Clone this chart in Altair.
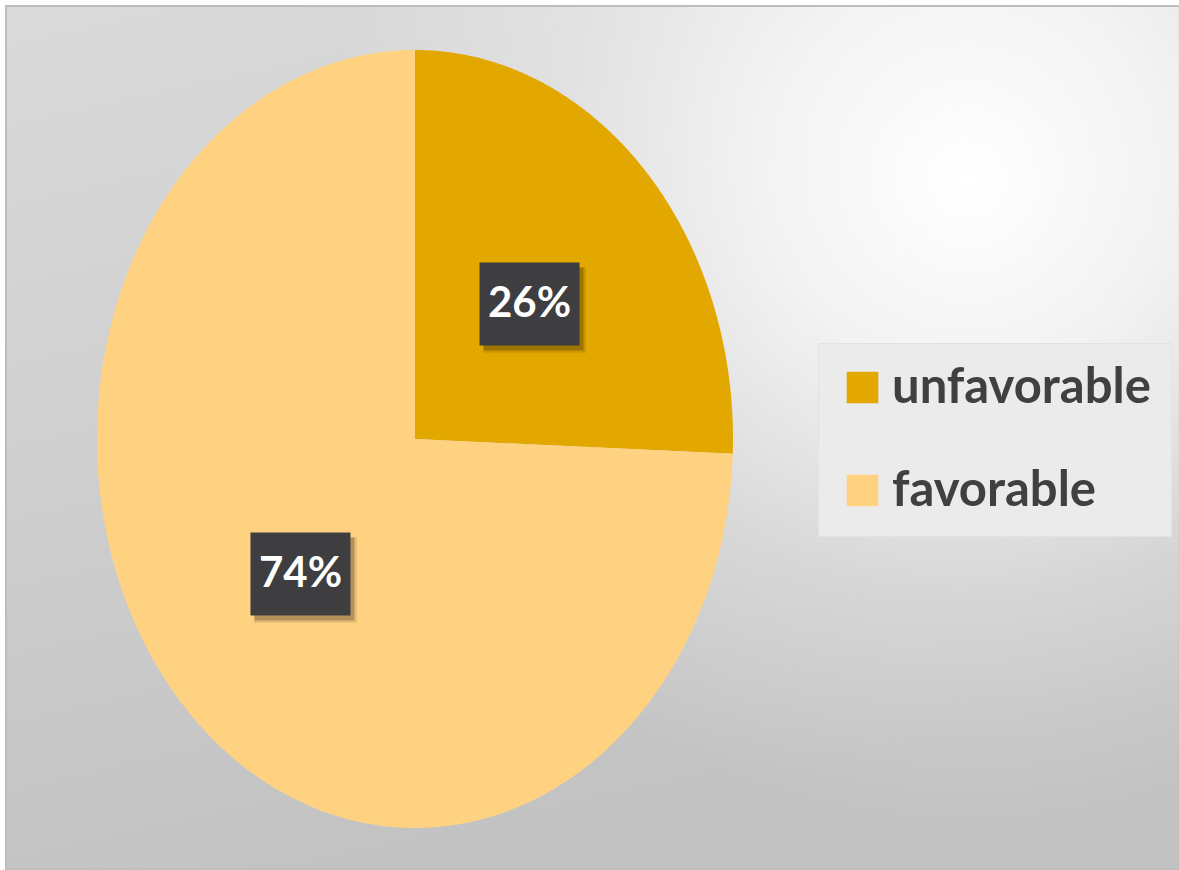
import altair as alt
import pandas as pd

# ---- data ----
categories = ["unfavorable", "favorable"]
values = [25.6, 74.4]
colors = ["#E2A800", "#FFD281"]

df = pd.DataFrame({"category": categories, "value": values})

# ---- layout ----
W, H = 1179, 870
CX, CY, RX, RY = 415, 439, 318, 389
xdom = [-CX / RX, (W - CX) / RX]
ydom = [(CY - H) / RY, CY / RY]

xs = alt.X("x:Q", scale=alt.Scale(domain=xdom, nice=False, zero=False), axis=None)
ys = alt.Y("y:Q", scale=alt.Scale(domain=ydom, nice=False, zero=False), axis=None)

base = (
    alt.Chart(df)
    .transform_window(cum="sum(value)", frame=[None, 0])
    .transform_joinaggregate(total="sum(value)")
    .transform_calculate(start="datum.cum - datum.value")
)

N = 240
pie = (
    base.transform_calculate(pts=f"sequence(-1, {N + 1})")
    .transform_flatten(["pts"])
    .transform_calculate(frac=f"clamp(datum.pts, 0, {N}) / {N}")
    .transform_calculate(ang="2*PI*(datum.start + datum.value*datum.frac)/datum.total")
    .transform_calculate(r="datum.pts < 0 ? 0 : 1")
    .transform_calculate(x="datum.r*sin(datum.ang)")
    .transform_calculate(y="datum.r*cos(datum.ang)")
    .mark_line(filled=True, strokeWidth=0)
    .encode(
        x=xs,
        y=ys,
        order=alt.Order("pts:Q"),
        color=alt.Color(
            "category:N",
            scale=alt.Scale(domain=categories, range=colors),
            sort=categories,
            legend=alt.Legend(
                orient="none",
                legendX=818,
                legendY=343,
                title=None,
                symbolType="square",
                symbolSize=1000,
                symbolStrokeWidth=0,
                labelFont="Lato",
                labelFontSize=49,
                labelFontWeight="bold",
                labelColor="#404040",
                labelOffset=5,
                labelLimit=500,
                padding=20,
                rowPadding=53,
                fillColor="#ebebeb",
                strokeColor="#e2e2e2",
            ),
        ),
    )
)

lab = (
    base.transform_calculate(ang="2*PI*(datum.start + datum.value/2)/datum.total")
    .transform_calculate(x="0.5*sin(datum.ang)")
    .transform_calculate(y="0.5*cos(datum.ang)")
    .transform_calculate(label="format(datum.value, '.0f') + '%'")
)
box_shape = "M-1,-0.83H1V0.83H-1Z"
shadow = lab.mark_point(
    shape=box_shape, size=10000, filled=True, color="#000000", opacity=0.22,
    xOffset=4, yOffset=5, strokeWidth=0,
).encode(x=xs, y=ys)
shadow2 = lab.mark_point(
    shape=box_shape, size=10600, filled=True, color="#000000", opacity=0.10,
    xOffset=5, yOffset=6, strokeWidth=0,
).encode(x=xs, y=ys)
box = lab.mark_point(
    shape=box_shape, size=10000, filled=True, color="#3e3e40", opacity=1, strokeWidth=0,
).encode(x=xs, y=ys)
txt = lab.mark_text(
    font="Lato", fontSize=42, fontWeight="bold", color="white", baseline="middle", align="center",
).encode(x=xs, y=ys, text="label:N")

one = pd.DataFrame({"a": [0]})
bg = alt.Chart(one).mark_rect(
    color=alt.Gradient(
        gradient="linear",
        x1=0, y1=0, x2=0.3, y2=1,
        stops=[
            alt.GradientStop(offset=0.0, color="#dadada"),
            alt.GradientStop(offset=0.5, color="#cfcfcf"),
            alt.GradientStop(offset=1.0, color="#c2c2c2"),
        ],
    ),
    stroke="#bdbdbd",
    strokeWidth=2,
).encode(x=alt.value(6), x2=alt.value(W), y=alt.value(6), y2=alt.value(H))

glow = alt.Chart(one).mark_rect(
    color=alt.Gradient(
        gradient="radial",
        x1=0.82, y1=0.28, r1=0.0,
        x2=0.82, y2=0.28, r2=0.55,
        stops=[
            alt.GradientStop(offset=0.0, color="rgba(255,255,255,1)"),
            alt.GradientStop(offset=0.3, color="rgba(255,255,255,0.75)"),
            alt.GradientStop(offset=0.65, color="rgba(255,255,255,0.28)"),
            alt.GradientStop(offset=1.0, color="rgba(255,255,255,0)"),
        ],
    ),
).encode(x=alt.value(7), x2=alt.value(W), y=alt.value(7), y2=alt.value(H))

chart = (
    alt.layer(bg, glow, pie, shadow2, shadow, box, txt)
    .properties(width=W, height=H, padding=0, autosize=alt.AutoSizeParams(type="none"), background="white")
    .configure_view(stroke=None)
)

chart.save("out.html", embed_options={"renderer": "svg", "actions": False})
